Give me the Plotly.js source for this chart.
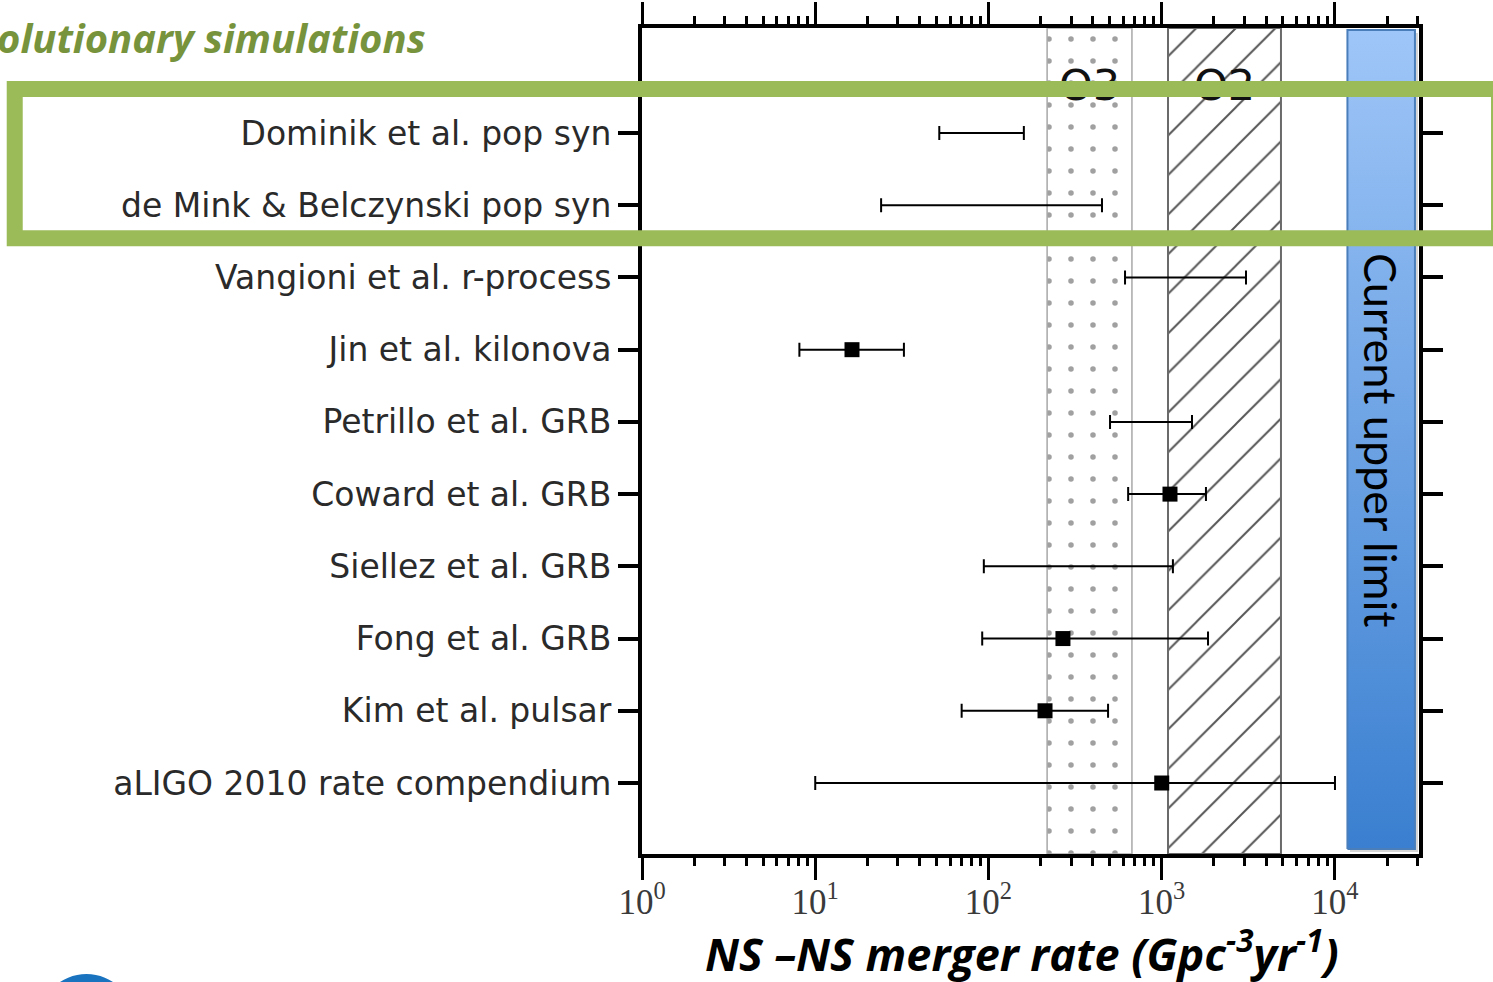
<!DOCTYPE html>
<html>
<head>
<meta charset="utf-8">
<script src="https://cdn.plot.ly/plotly-3.0.1.min.js"></script>
<style>
  html, body { margin: 0; padding: 0; background: #ffffff; overflow: hidden; }
  #chart { width: 1493px; height: 982px; }
</style>
</head>
<body>
<div id="chart"></div>
<script>
// Rate estimates, listed from the bottom row of the chart upward
const studies = [
  'aLIGO 2010 rate compendium',
  'Kim et al. pulsar',
  'Fong et al. GRB',
  'Siellez et al. GRB',
  'Coward et al. GRB',
  'Petrillo et al. GRB',
  'Jin et al. kilonova',
  'Vangioni et al. r-process',
  'de Mink & Belczynski pop syn',
  'Dominik et al. pop syn'
];
// Lower / upper ends of each range and the central value where one is quoted (Gpc^-3 yr^-1)
const rateLow     = [10,    70,  92,   94,   640,  503,  8.1,  614,  24,  52];
const rateHigh    = [10000, 490, 1850, 1160, 1800, 1495, 32.5, 3065, 452, 160];
const rateCentral = [1000,  212, 269,  null, 1116, null, 16.3, null, null, null];

// Observing-run sensitivity bands
const runNames = ['O3', 'O2'];
const runLow   = [218, 1087];
const runHigh  = [673, 4878];

// Current upper limit column (start, end)
const upperLimit = [11800, 28950];

// Axis tick labels
const decadeTicks  = [1, 10, 100, 1000, 10000];
const decadeLabels = ['10<sup>0</sup>', '10<sup>1</sup>', '10<sup>2</sup>', '10<sup>3</sup>', '10<sup>4</sup>'];

// ---- derived drawing helpers ----
const X_RANGE = [0, 4.485];
const minorTicks = [];
for (let d = 0; d <= 4; d++) {
  for (let m = 2; m <= 9; m++) {
    const v = m * Math.pow(10, d);
    if (v <= 30000) minorTicks.push(v);
  }
}

const plain = { x: [], y: [], hi: [] };
const marked = { x: [], y: [], plus: [], minus: [] };
studies.forEach((s, i) => {
  if (rateCentral[i] === null) {
    plain.x.push(rateLow[i]);
    plain.y.push(s);
    plain.hi.push(rateHigh[i] - rateLow[i]);
  } else {
    marked.x.push(rateCentral[i]);
    marked.y.push(s);
    marked.plus.push(rateHigh[i] - rateCentral[i]);
    marked.minus.push(rateCentral[i] - rateLow[i]);
  }
});

const errStyle = { color: '#000000', thickness: 2, width: 7 };

const traces = [
  // O3 band (dotted)
  {
    type: 'bar', orientation: 'h', xaxis: 'x', yaxis: 'y',
    y: [0.5], width: [1], base: [runLow[0]], x: [runHigh[0] - runLow[0]],
    marker: {
      color: '#ffffff',
      line: { color: '#a8a8a8', width: 1.5 },
      pattern: { shape: '.', fgcolor: '#a0a0a0', bgcolor: '#ffffff', size: 22, solidity: 0.05 }
    },
    hoverinfo: 'skip', showlegend: false
  },
  // O2 band (hatched)
  {
    type: 'bar', orientation: 'h', xaxis: 'x', yaxis: 'y',
    y: [0.5], width: [1], base: [runLow[1]], x: [runHigh[1] - runLow[1]],
    marker: {
      color: '#ffffff',
      line: { color: '#6a6a6a', width: 2 },
      pattern: { shape: '/', fgcolor: '#555555', bgcolor: '#ffffff', size: 28, solidity: 0.07 }
    },
    hoverinfo: 'skip', showlegend: false
  },
  // Run labels
  {
    type: 'scatter', mode: 'text', xaxis: 'x', yaxis: 'y',
    x: runLow.map((lo, i) => Math.sqrt(lo * runHigh[i])),
    y: runNames.map(() => 0.926),
    text: runNames,
    textposition: 'middle center',
    textfont: { family: 'DejaVu Sans', size: 43, color: '#111111' },
    hoverinfo: 'skip', showlegend: false
  },
  // Current upper limit column
  {
    type: 'scatter', mode: 'lines', xaxis: 'x', yaxis: 'y',
    x: [upperLimit[0], upperLimit[1], upperLimit[1], upperLimit[0], upperLimit[0]],
    y: [0.006, 0.006, 0.9976, 0.9976, 0.006],
    fill: 'toself',
    fillgradient: { type: 'vertical', colorscale: [[0, '#3a7fd0'], [1, '#9fc6f8']] },
    line: { color: '#4a7ebb', width: 2 },
    hoverinfo: 'skip', showlegend: false
  },
  // carrier for the minor-tick axis
  {
    type: 'scatter', mode: 'markers', xaxis: 'x2', yaxis: 'y',
    x: [decadeTicks[0]], y: [0.5], marker: { opacity: 0, size: 1 },
    hoverinfo: 'skip', showlegend: false
  },
  // Ranges without a central value
  {
    type: 'scatter', mode: 'markers', xaxis: 'x', yaxis: 'y2',
    x: plain.x, y: plain.y,
    marker: { size: 1, opacity: 0 },
    error_x: Object.assign({ type: 'data', symmetric: false, array: plain.hi, arrayminus: plain.hi.map(() => 0) }, errStyle),
    hoverinfo: 'skip', showlegend: false
  },
  // Ranges with a central value
  {
    type: 'scatter', mode: 'markers', xaxis: 'x', yaxis: 'y2',
    x: marked.x, y: marked.y,
    marker: { symbol: 'square', size: 15, color: '#000000' },
    error_x: Object.assign({ type: 'data', symmetric: false, array: marked.plus, arrayminus: marked.minus }, errStyle),
    hoverinfo: 'skip', showlegend: false
  }
];

const layout = {
  width: 1493, height: 982,
  margin: { l: 642, r: 74, t: 28, b: 128, pad: 0 },
  paper_bgcolor: '#ffffff', plot_bgcolor: '#ffffff',
  barmode: 'overlay',
  showlegend: false,
  xaxis: {
    type: 'log', range: X_RANGE,
    tickmode: 'array', tickvals: decadeTicks, ticktext: decadeLabels,
    ticks: 'outside', ticklen: 22, tickwidth: 3, tickcolor: '#000000',
    showline: true, linewidth: 4, linecolor: '#000000', mirror: 'allticks',
    showgrid: false, zeroline: false,
    ticklabelstandoff: -8,
    tickfont: { family: 'Liberation Serif', size: 35, color: '#3a3a3a' }
  },
  // minor decade subdivisions
  xaxis2: {
    type: 'log', range: X_RANGE, overlaying: 'x', anchor: 'y', side: 'bottom',
    tickmode: 'array', tickvals: minorTicks,
    ticks: 'outside', ticklen: 11, tickwidth: 3, tickcolor: '#000000',
    showticklabels: false, showline: false, mirror: 'allticks',
    showgrid: false, zeroline: false
  },
  yaxis: { range: [0, 1], visible: false, fixedrange: true },
  yaxis2: {
    overlaying: 'y', side: 'left', type: 'category', categoryorder: 'array', categoryarray: studies,
    range: [-0.983, 10.454],
    ticks: 'outside', ticklen: 20, tickwidth: 4, tickcolor: '#000000',
    showline: true, linewidth: 4, linecolor: '#000000', mirror: 'ticks',
    showgrid: false, zeroline: false,
    ticklabelstandoff: 0,
    tickfont: { family: 'DejaVu Sans', size: 33, color: '#2a2a2a' }
  },
  shapes: [
    // soft shadow behind the upper-limit column
    {
      type: 'rect', xref: 'paper', yref: 'paper', layer: 'below',
      x0: 0.9112, x1: 0.9987, y0: 0.0024, y1: 0.994,
      line: { width: 0 }, fillcolor: 'rgba(0,0,0,0.16)'
    },
    // highlight frame around the population-synthesis rows
    {
      type: 'rect', xref: 'paper', yref: 'paper', layer: 'above',
      x0: -0.8073, x1: 1.103, y0: 0.7455, y1: 0.926,
      line: { color: '#9bbb59', width: 16 }, fillcolor: 'rgba(0,0,0,0)'
    },
    // logo disc at the lower left
    {
      type: 'circle', xref: 'paper', yref: 'paper', layer: 'above',
      x0: -0.7767, x1: -0.6532, y0: -0.2615, y1: -0.1453,
      line: { width: 0 }, fillcolor: '#1a73bf'
    }
  ],
  annotations: [
    {
      text: 'olutionary simulations', xref: 'paper', yref: 'paper',
      x: -0.2754, y: 0.988, xanchor: 'right', yanchor: 'middle', showarrow: false,
      font: { family: 'Open Sans', size: 40, color: '#77933c', weight: 700, style: 'italic' }
    },
    {
      text: 'NS \u2013NS merger rate (Gpc<sup>-3</sup>yr<sup>-1</sup>)', xref: 'paper', yref: 'paper',
      x: 0.489, y: -0.1174, xanchor: 'center', yanchor: 'middle', showarrow: false,
      font: { family: 'Open Sans', size: 45, color: '#000000', weight: 700, style: 'italic' }
    },
    {
      text: 'Current upper limit', xref: 'x', yref: 'y',
      x: Math.log10(Math.sqrt(upperLimit[0] * upperLimit[1])), y: 0.501,
      textangle: 90, showarrow: false, xanchor: 'center', yanchor: 'middle',
      font: { family: 'Lato', size: 45, color: '#000000' }
    }
  ]
};

Plotly.newPlot('chart', traces, layout, { staticPlot: true, displayModeBar: false });
</script>
</body>
</html>
